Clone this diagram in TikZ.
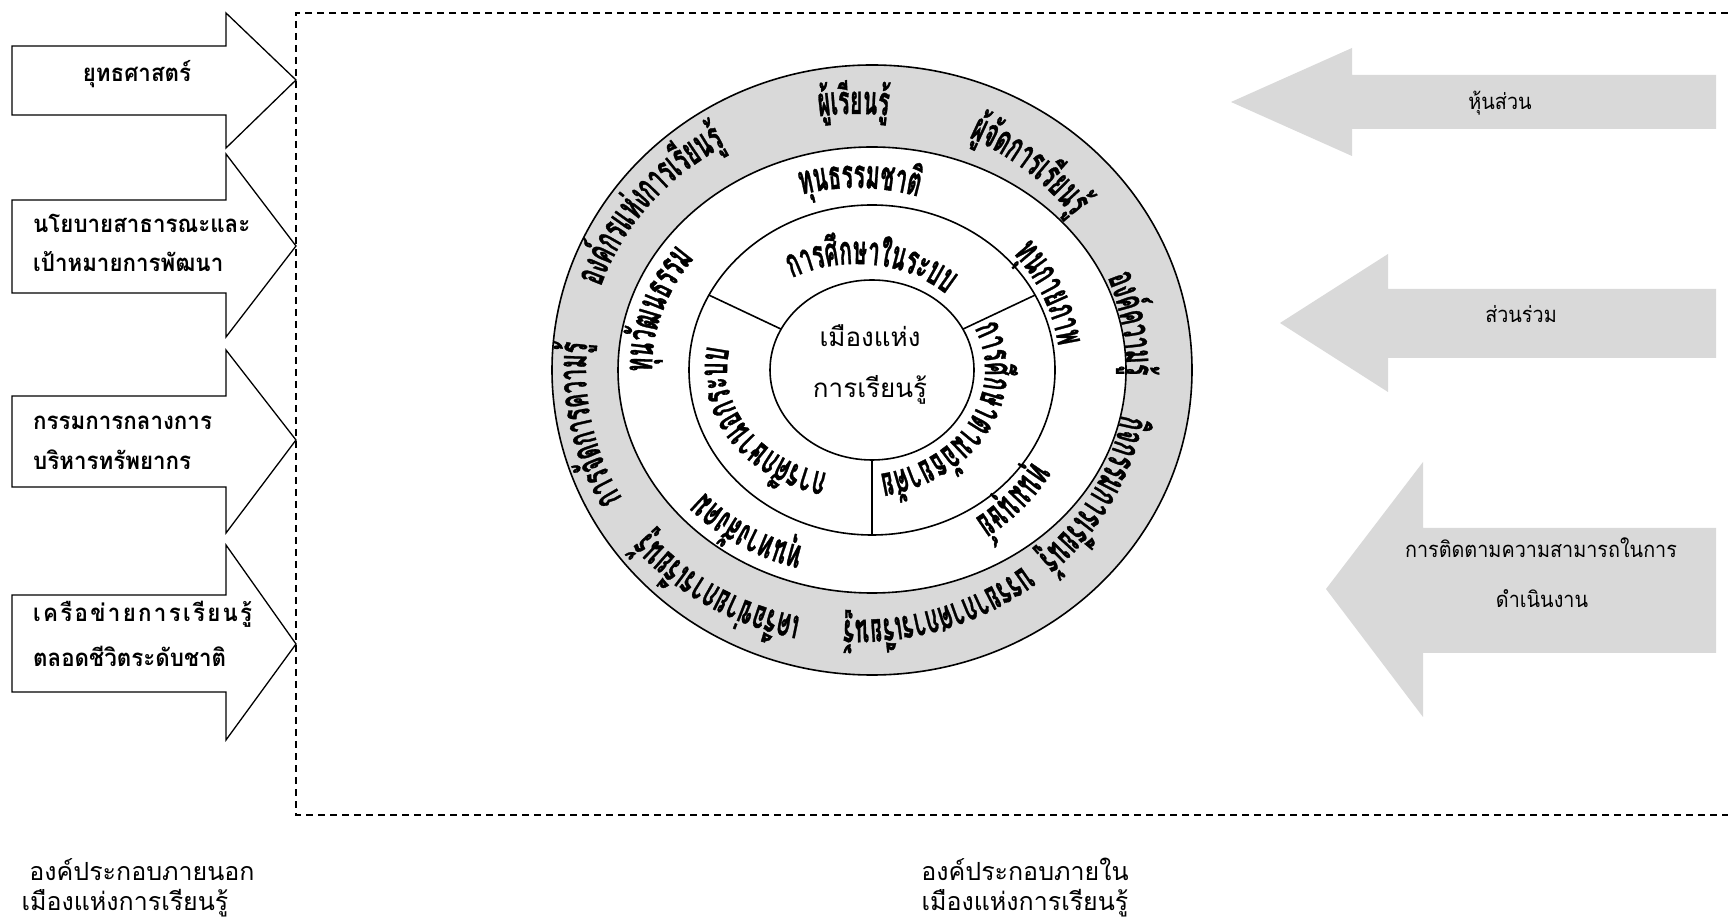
\documentclass[tikz,border=0pt]{standalone}
\usepackage{fontspec}
\usepackage{graphicx}
\setmainfont{Loma}[Script=Thai]
\newfontfamily\ringfont{Loma}[Script=Thai, BoldFeatures={FakeBold=1.2}]
\newfontfamily\lblfont{Loma}[Script=Thai, FakeStretch=0.93]
\newfontfamily\rlblfont{Loma}[Script=Thai, FakeStretch=0.9]
\definecolor{ringgray}{HTML}{D9D9D9}
\newcommand\ringfmt{\ringfont\fontsize{40}{44}\selectfont\bfseries}
\newcommand\ringsx{0.53}
\tikzset{
  outline/.style={draw=black, line width=1.6pt},
  leftarrow/.style={draw=black, fill=white, line width=1.3pt, line join=miter},
  grayarrow/.style={fill=ringgray, draw=none},
  frame/.style={draw=black, line width=1.4pt, dash pattern=on 7pt off 5pt},
  leftlbl/.style={font=\lblfont\fontsize{24}{30}\selectfont\bfseries, inner sep=0pt, anchor=base west},
  rightlbl/.style={font=\rlblfont\fontsize{22}{28}\selectfont, inner sep=0pt, anchor=base},
  bottomlbl/.style={font=\fontsize{25}{30}\selectfont, inner sep=0pt, anchor=base},
  centerlbl/.style={font=\fontsize{26}{30}\selectfont, inner sep=0pt, anchor=base},
  ringchar/.style={font=\ringfmt, inner sep=0pt, outer sep=0pt, anchor=base},
}
\newdimen\chunkw
\newcount\ringcount
\newcommand\measurechunk[1]{%
  \pgfinterruptpicture\global\setbox1=\hbox{\ringfmt\scalebox{\ringsx}[1]{#1}}\endpgfinterruptpicture
  \chunkw=\wd1\relax}
% #1 rx, #2 ry, #3 mid angle, #4 comma separated clusters; text runs clockwise round (T)
\newcommand\arctext[4]{%
  \gdef\attotal{0}%
  \foreach \tk in {#4}{%
    \measurechunk{\tk}%
    \pgfmathsetmacro\tmpsum{\attotal+\chunkw}%
    \xdef\attotal{\tmpsum}%
  }%
  \pgfmathsetmacro\atspeed{100*sqrt((0.01*#1*sin(#3))^2+(0.01*#2*cos(#3))^2)}%
  \pgfmathsetmacro\atstart{#3+0.5*\attotal/\atspeed*180/pi}%
  \xdef\atcur{\atstart}%
  \foreach \tk in {#4}{%
    \measurechunk{\tk}%
    \pgfmathsetmacro\atsp{100*sqrt((0.01*#1*sin(\atcur))^2+(0.01*#2*cos(\atcur))^2)}%
    \pgfmathsetmacro\athalf{0.5*\chunkw/\atsp*180/pi}%
    \pgfmathsetmacro\atth{\atcur-\athalf}%
    \pgfmathsetmacro\atx{#1*cos(\atth)}%
    \pgfmathsetmacro\aty{#2*sin(\atth)}%
    \pgfmathsetmacro\atrot{atan2(-#2*cos(\atth),#1*sin(\atth))}%
    \global\advance\ringcount by 1
    \path (T) ++(\atx pt,\aty pt) node[ringchar, rotate=\atrot] (rc\the\ringcount) {\scalebox{\ringsx}[1]{\tk}};%
    \pgfmathsetmacro\atnext{\atcur-2*\athalf}%
    \xdef\atcur{\atnext}%
  }%
}
\begin{document}
\begin{tikzpicture}[x=1pt,y=1pt]
\useasboundingbox (0,0) rectangle (1728,921);
\fill[white] (0,0) rectangle (1728,921);

% dashed frame
\draw[frame] (1728,908) -- (296,908) -- (296,106) -- (1728,106);

% left arrows
\draw[leftarrow] (12,875) -- (226,875) -- (226,908) -- (296,841) -- (226,773) -- (226,806) -- (12,806) -- cycle;
\draw[leftarrow] (12,721) -- (226,721) -- (226,767) -- (296,675) -- (226,584) -- (226,628) -- (12,628) -- cycle;
\draw[leftarrow] (12,525) -- (226,525) -- (226,571) -- (296,481) -- (226,388) -- (226,434) -- (12,434) -- cycle;
\draw[leftarrow] (12,326) -- (226,326) -- (226,376) -- (296,277) -- (226,181) -- (226,229) -- (12,229) -- cycle;

\node[leftlbl, anchor=base] (a1) at (137,839) {ยุทธศาสตร์};
\node[leftlbl] (a2a) at (33,688) {นโยบายสาธารณะและ};
\node[leftlbl] (a2b) at (33,649) {เป้าหมายการพัฒนา};
\node[leftlbl] (a3a) at (33,491) {กรรมการกลางการ};
\node[leftlbl] (a3b) at (33,451) {บริหารทรัพยากร};
\node[leftlbl] (a4a) at (33,299) {\hbox to 219pt{เ\hfil ค\hfil รื\hfil อ\hfil ข่\hfil า\hfil ย\hfil ก\hfil า\hfil ร\hfil เ\hfil รี\hfil ย\hfil น\hfil รู้}};
\node[leftlbl] (a4b) at (33,254) {ตลอดชีวิตระดับชาติ};

% right arrows
\fill[grayarrow] (1716,846) -- (1352,846) -- (1352,873) -- (1231,819) -- (1352,765) -- (1352,792) -- (1716,792) -- cycle;
\fill[grayarrow] (1716,632) -- (1388,632) -- (1388,667) -- (1280,598) -- (1388,529) -- (1388,563) -- (1716,563) -- cycle;
\fill[grayarrow] (1716,393) -- (1423,393) -- (1423,459) -- (1326,332) -- (1423,204) -- (1423,268) -- (1716,268) -- cycle;

\node[rightlbl] (r1) at (1500,811) {หุ้นส่วน};
\node[rightlbl] (r2) at (1521,598) {ส่วนร่วม};
\node[rightlbl] (r3a) at (1541,363) {การติดตามความสามารถในการ};
\node[rightlbl] (r3b) at (1542,313) {ดำเนินงาน};

% bottom labels
\node[bottomlbl] (b1a) at (142,41) {องค์ประกอบภายนอก};
\node[bottomlbl] (b1b) at (125,11) {เมืองแห่งการเรียนรู้};
\node[bottomlbl] (b2a) at (1025,41) {องค์ประกอบภายใน};
\node[bottomlbl] (b2b) at (1025,11) {เมืองแห่งการเรียนรู้};

% rings
\coordinate (C) at (872,551);
\coordinate (T) at (856,551);
\draw[outline, fill=ringgray] (C) ellipse [x radius=320pt, y radius=305pt];
\draw[outline, fill=white] (C) ellipse [x radius=254pt, y radius=223pt];
\draw[outline] (C) ellipse [x radius=183pt, y radius=165pt];
\draw[outline] (C) ellipse [x radius=102pt, y radius=90pt];

\path (C) ++(153:102pt and 90pt) coordinate (d1i);
\path (C) ++(153:183pt and 165pt) coordinate (d1o);
\path (C) ++(27:102pt and 90pt) coordinate (d2i);
\path (C) ++(27:183pt and 165pt) coordinate (d2o);
\path (C) ++(270:102pt and 90pt) coordinate (d3i);
\path (C) ++(270:183pt and 165pt) coordinate (d3o);
\draw[outline] (d1i) -- (d1o);
\draw[outline] (d2i) -- (d2o);
\draw[outline] (d3i) -- (d3o);

\node[centerlbl] (m1) at (870,574) {เมืองแห่ง};
\node[centerlbl] (m2) at (870,523) {การเรียนรู้};

% outer gray ring texts
\arctext{270}{256}{90.5}{ผู้,เ,รี,ย,น,รู้}
\arctext{270}{256}{51}{ผู้,จั,ด,ก,า,ร,เ,รี,ย,น,รู้}
\arctext{270}{256}{10}{อ,ง,ค์,ค,ว,า,ม,รู้}
\arctext{270}{252}{-29}{กิ,จ,ก,ร,ร,ม,ก,า,ร,เ,รี,ย,น,รู้}
\arctext{270}{250}{-72}{บ,ร,ร,ย,า,ก,า,ศ,ก,า,ร,เ,รี,ย,น,รู้}
\arctext{270}{252}{-121}{เ,ค,รื,อ,ข่,า,ย,ก,า,ร,เ,รี,ย,น,รู้}
\arctext{270}{256}{-168}{ก,า,ร,จั,ด,ก,า,ร,ค,ว,า,ม,รู้}
\arctext{270}{256}{140}{อ,ง,ค์,ก,ร,แ,ห่,ง,ก,า,ร,เ,รี,ย,น,รู้}

% capital ring texts
\arctext{204}{182}{89}{ทุ,น,ธ,ร,ร,ม,ช,า,ติ}
\arctext{204}{183}{23.5}{ทุ,น,ก,า,ย,ภ,า,พ}
\arctext{204}{183}{-42}{ทุ,น,ม,นุ,ษ,ย์}
\arctext{204}{183}{-121.5}{ทุ,น,ท,า,ง,สั,ง,ค,ม}
\arctext{204}{183}{161.5}{ทุ,น,วั,ฒ,น,ธ,ร,ร,ม}

% education ring texts
\arctext{129}{106}{83.5}{ก,า,ร,ศึ,ก,ษ,า,ใ,น,ร,ะ,บ,บ}
\arctext{129}{106}{-29}{ก,า,ร,ศึ,ก,ษ,า,ต,า,ม,อั,ธ,ย,า,ศั,ย}
\arctext{129}{106}{-148}{ก,า,ร,ศึ,ก,ษ,า,น,อ,ก,ร,ะ,บ,บ}
\end{tikzpicture}
\end{document}
